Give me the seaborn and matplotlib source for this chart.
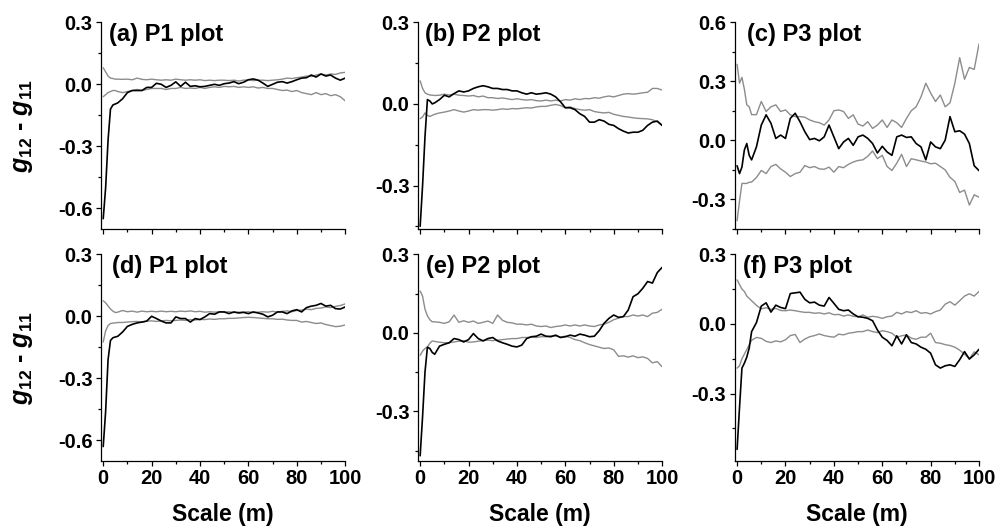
import matplotlib
matplotlib.use("Agg")
import matplotlib.pyplot as plt
import seaborn as sns
import pandas as pd

# scale axis (m), shared by every panel
x_scale = [0, 1, 2, 3, 4, 5, 6, 8, 10, 12, 14, 16, 18, 20, 22, 24, 26, 28, 30, 32,
           34, 36, 38, 40, 42, 44, 46, 48, 50, 52, 54, 56, 58, 60, 62, 64, 66, 68,
           70, 72, 74, 76, 78, 80, 82, 84, 86, 88, 90, 92, 94, 96, 98, 100]

# (a) P1 plot
a_black = [-0.65, -0.50, -0.27, -0.12, -0.10, -0.095, -0.09, -0.07, -0.04, -0.03, -0.03, -0.03,
           -0.015, -0.015, 0.005, 0.0, -0.015, -0.005, 0.012, -0.01, 0.01, -0.01, -0.007, -0.012,
           -0.01, -0.005, 0.0, -0.005, 0.003, 0.006, 0.013, 0.003, 0.01, 0.022, 0.026, 0.02,
           0.006, -0.01, 0.0, 0.01, 0.013, 0.006, 0.013, 0.022, 0.03, 0.032, 0.045, 0.035,
           0.05, 0.04, 0.045, 0.03, 0.02, 0.03]
a_upper = [0.08, 0.06, 0.04, 0.03, 0.028, 0.025, 0.025, 0.024, 0.025, 0.022, 0.03, 0.024,
           0.022, 0.025, 0.022, 0.02, 0.022, 0.02, 0.025, 0.022, 0.02, 0.022, 0.02, 0.022,
           0.018, 0.02, 0.018, 0.02, 0.02, 0.018, 0.02, 0.016, 0.02, 0.022, 0.018, 0.02,
           0.02, 0.018, 0.02, 0.022, 0.025, 0.03, 0.028, 0.032, 0.035, 0.04, 0.038, 0.045,
           0.05, 0.045, 0.05, 0.048, 0.055, 0.058]
a_lower = [-0.06, -0.05, -0.04, -0.035, -0.03, -0.03, -0.035, -0.04, -0.035, -0.03, -0.025, -0.03,
           -0.025, -0.02, -0.02, -0.02, -0.025, -0.02, -0.02, -0.015, -0.02, -0.018, -0.02, -0.015,
           -0.02, -0.015, -0.012, -0.015, -0.01, -0.012, -0.01, -0.015, -0.012, -0.015, -0.012, -0.018,
           -0.015, -0.02, -0.02, -0.025, -0.03, -0.028, -0.035, -0.03, -0.04, -0.045, -0.05, -0.04,
           -0.05, -0.045, -0.055, -0.05, -0.06, -0.08]

# (b) P2 plot
b_black = [-0.45, -0.30, -0.12, 0.016, 0.011, 0.0, 0.004, 0.016, 0.032, 0.026, 0.038, 0.048,
           0.044, 0.048, 0.057, 0.063, 0.067, 0.063, 0.057, 0.057, 0.053, 0.053, 0.048, 0.048,
           0.041, 0.036, 0.041, 0.036, 0.038, 0.041, 0.036, 0.026, 0.008, -0.014, -0.014, -0.021,
           -0.036, -0.046, -0.067, -0.067, -0.058, -0.063, -0.075, -0.079, -0.091, -0.10, -0.107, -0.104,
           -0.104, -0.097, -0.079, -0.067, -0.063, -0.079]
b_upper = [0.085, 0.057, 0.041, 0.036, 0.033, 0.032, 0.031, 0.032, 0.036, 0.033, 0.036, 0.032,
           0.031, 0.029, 0.031, 0.026, 0.029, 0.023, 0.023, 0.02, 0.022, 0.019, 0.016, 0.019,
           0.016, 0.014, 0.016, 0.012, 0.011, 0.014, 0.011, 0.014, 0.011, 0.016, 0.014, 0.019,
           0.016, 0.02, 0.019, 0.023, 0.021, 0.026, 0.029, 0.026, 0.031, 0.036, 0.038, 0.036,
           0.038, 0.041, 0.043, 0.057, 0.057, 0.051]
b_lower = [-0.054, -0.048, -0.033, -0.042, -0.046, -0.042, -0.038, -0.033, -0.03, -0.026, -0.021, -0.026,
           -0.03, -0.026, -0.021, -0.023, -0.021, -0.021, -0.023, -0.021, -0.018, -0.02, -0.017, -0.018,
           -0.016, -0.014, -0.015, -0.011, -0.009, -0.009, -0.005, -0.002, -0.006, -0.014, -0.011, -0.017,
           -0.021, -0.023, -0.021, -0.028, -0.031, -0.033, -0.031, -0.038, -0.042, -0.046, -0.048, -0.051,
           -0.053, -0.054, -0.055, -0.058, -0.066, -0.079]

# (c) P3 plot
c_black = [-0.13, -0.17, -0.137, -0.05, -0.017, -0.077, -0.10, -0.034, 0.077, 0.129, 0.086, 0.009,
           0.026, 0.009, 0.111, 0.137, 0.094, 0.043, 0.003, 0.009, -0.003, 0.017, 0.077, 0.017,
           -0.043, -0.009, 0.009, -0.026, 0.017, 0.026, 0.009, -0.017, -0.065, -0.031, -0.06, -0.077,
           0.017, 0.026, 0.014, 0.017, -0.017, -0.034, -0.10, -0.009, -0.034, -0.043, 0.0, 0.12,
           0.043, 0.048, 0.031, -0.017, -0.13, -0.155]
c_upper = [0.386, 0.29, 0.32, 0.26, 0.18, 0.17, 0.13, 0.13, 0.197, 0.146, 0.17, 0.18,
           0.146, 0.154, 0.129, 0.12, 0.12, 0.117, 0.103, 0.094, 0.089, 0.077, 0.103, 0.15,
           0.154, 0.146, 0.111, 0.129, 0.082, 0.072, 0.094, 0.06, 0.077, 0.103, 0.065, 0.103,
           0.089, 0.065, 0.111, 0.15, 0.17, 0.22, 0.29, 0.24, 0.197, 0.23, 0.17, 0.19,
           0.29, 0.42, 0.31, 0.37, 0.36, 0.49]
c_lower = [-0.41, -0.31, -0.22, -0.22, -0.22, -0.214, -0.213, -0.19, -0.154, -0.17, -0.134, -0.123,
           -0.146, -0.163, -0.185, -0.17, -0.163, -0.129, -0.14, -0.134, -0.146, -0.148, -0.137, -0.163,
           -0.134, -0.14, -0.123, -0.111, -0.103, -0.10, -0.082, -0.055, -0.094, -0.077, -0.134, -0.154,
           -0.117, -0.072, -0.134, -0.094, -0.10, -0.106, -0.111, -0.12, -0.117, -0.134, -0.151, -0.189,
           -0.21, -0.266, -0.254, -0.33, -0.278, -0.29]

# (d) P1 plot
d_black = [-0.63, -0.46, -0.21, -0.117, -0.104, -0.10, -0.097, -0.076, -0.049, -0.039, -0.032, -0.028,
           -0.023, 0.0, -0.011, -0.023, -0.032, -0.032, -0.003, -0.011, -0.011, -0.028, -0.011, -0.016,
           -0.003, 0.013, 0.01, 0.021, 0.021, 0.013, 0.021, 0.016, 0.019, 0.013, 0.021, 0.016,
           0.01, -0.003, 0.005, 0.021, 0.021, 0.013, 0.026, 0.032, 0.021, 0.042, 0.049, 0.053,
           0.062, 0.049, 0.053, 0.037, 0.035, 0.045]
d_upper = [0.075, 0.065, 0.05, 0.035, 0.025, 0.018, 0.02, 0.028, 0.022, 0.025, 0.02, 0.025,
           0.022, 0.024, 0.022, 0.025, 0.022, 0.024, 0.022, 0.025, 0.023, 0.026, 0.022, 0.024,
           0.02, 0.022, 0.02, 0.022, 0.02, 0.022, 0.018, 0.02, 0.02, 0.022, 0.018, 0.02,
           0.022, 0.02, 0.024, 0.02, 0.024, 0.026, 0.022, 0.028, 0.03, 0.035, 0.032, 0.038,
           0.04, 0.045, 0.042, 0.048, 0.052, 0.06]
d_lower = [-0.125, -0.07, -0.045, -0.035, -0.033, -0.032, -0.03, -0.03, -0.028, -0.026, -0.025, -0.028,
           -0.024, -0.022, -0.025, -0.022, -0.02, -0.022, -0.02, -0.018, -0.02, -0.016, -0.018, -0.015,
           -0.016, -0.013, -0.015, -0.012, -0.012, -0.01, -0.01, -0.008, -0.006, -0.005, -0.006, -0.008,
           -0.01, -0.012, -0.012, -0.015, -0.014, -0.018, -0.02, -0.02, -0.028, -0.025, -0.03, -0.035,
           -0.032, -0.04, -0.045, -0.05, -0.048, -0.042]

# (e) P2 plot
e_black = [-0.47, -0.32, -0.15, -0.055, -0.06, -0.075, -0.082, -0.051, -0.044, -0.038, -0.022, -0.026,
           -0.035, -0.026, -0.003, -0.022, -0.031, -0.022, -0.018, -0.031, -0.038, -0.044, -0.051, -0.054,
           -0.047, -0.022, -0.015, -0.013, -0.005, -0.013, -0.015, -0.009, -0.018, -0.015, -0.009, -0.013,
           -0.005, -0.009, -0.015, -0.013, 0.008, 0.036, 0.055, 0.068, 0.059, 0.062, 0.087, 0.138,
           0.149, 0.17, 0.196, 0.19, 0.23, 0.25]
e_upper = [0.16, 0.14, 0.09, 0.065, 0.05, 0.042, 0.042, 0.04, 0.036, 0.042, 0.068, 0.04,
           0.046, 0.04, 0.045, 0.036, 0.04, 0.045, 0.036, 0.068, 0.048, 0.04, 0.038, 0.033,
           0.033, 0.03, 0.033, 0.026, 0.024, 0.026, 0.02, 0.024, 0.026, 0.03, 0.026, 0.03,
           0.026, 0.03, 0.026, 0.024, 0.03, 0.033, 0.04, 0.05, 0.056, 0.062, 0.062, 0.068,
           0.064, 0.068, 0.062, 0.075, 0.078, 0.09]
e_lower = [-0.086, -0.07, -0.06, -0.054, -0.04, -0.031, -0.033, -0.036, -0.038, -0.038, -0.035, -0.032,
           -0.03, -0.036, -0.035, -0.032, -0.03, -0.028, -0.03, -0.028, -0.026, -0.024, -0.022, -0.022,
           -0.018, -0.018, -0.016, -0.018, -0.015, -0.015, -0.012, -0.012, -0.016, -0.013, -0.018, -0.026,
           -0.03, -0.038, -0.045, -0.05, -0.055, -0.06, -0.058, -0.065, -0.09, -0.088, -0.093, -0.088,
           -0.095, -0.092, -0.098, -0.115, -0.11, -0.13]

# (f) P3 plot
f_black = [-0.54, -0.36, -0.19, -0.169, -0.143, -0.104, -0.033, 0.006, 0.077, 0.091, 0.051, 0.081,
           0.071, 0.066, 0.131, 0.134, 0.137, 0.106, 0.091, 0.094, 0.081, 0.077, 0.114, 0.089,
           0.063, 0.057, 0.06, 0.043, 0.031, 0.029, 0.024, 0.014, -0.026, -0.057, -0.071, -0.094,
           -0.051, -0.086, -0.047, -0.08, -0.086, -0.10, -0.109, -0.126, -0.176, -0.19, -0.18, -0.176,
           -0.183, -0.154, -0.119, -0.151, -0.133, -0.109]
f_upper = [0.19, 0.17, 0.15, 0.14, 0.12, 0.11, 0.10, 0.08, 0.065, 0.07, 0.063, 0.067,
           0.058, 0.057, 0.06, 0.057, 0.053, 0.05, 0.05, 0.046, 0.048, 0.043, 0.048, 0.04,
           0.041, 0.034, 0.039, 0.033, 0.031, 0.039, 0.029, 0.033, 0.03, 0.024, 0.031, 0.034,
           0.05, 0.043, 0.053, 0.049, 0.057, 0.046, 0.049, 0.043, 0.053, 0.06, 0.085, 0.096,
           0.081, 0.10, 0.12, 0.13, 0.12, 0.14]
f_lower = [-0.19, -0.18, -0.15, -0.13, -0.11, -0.09, -0.07, -0.058, -0.062, -0.075, -0.08, -0.073,
           -0.077, -0.068, -0.05, -0.045, -0.08, -0.065, -0.055, -0.05, -0.043, -0.05, -0.054, -0.057,
           -0.044, -0.047, -0.04, -0.037, -0.033, -0.033, -0.026, -0.033, -0.037, -0.029, -0.033, -0.04,
           -0.057, -0.051, -0.047, -0.061, -0.066, -0.057, -0.057, -0.04, -0.08, -0.083, -0.089, -0.093,
           -0.10, -0.113, -0.13, -0.15, -0.12, -0.133]

titles = ["(a) P1 plot", "(b) P2 plot", "(c) P3 plot",
          "(d) P1 plot", "(e) P2 plot", "(f) P3 plot"]
y_ranges = [(-0.7, 0.301), (-0.46, 0.301), (-0.452, 0.601),
            (-0.7, 0.301), (-0.49, 0.301), (-0.59, 0.301)]
y_major = [[-0.6, -0.3, 0.0, 0.3], [-0.3, 0.0, 0.3], [-0.3, 0.0, 0.3, 0.6],
           [-0.6, -0.3, 0.0, 0.3], [-0.3, 0.0, 0.3], [-0.3, 0.0, 0.3]]
y_minor = [[-0.45, -0.15, 0.15], [-0.45, -0.15, 0.15], [-0.45, -0.15, 0.15, 0.45],
           [-0.45, -0.15, 0.15], [-0.45, -0.15, 0.15], [-0.45, -0.15, 0.15]]
title_x = [0.033, 0.03, 0.05, 0.047, 0.033, 0.034]
series = [(a_black, a_upper, a_lower), (b_black, b_upper, b_lower), (c_black, c_upper, c_lower),
          (d_black, d_upper, d_lower), (e_black, e_upper, e_lower), (f_black, f_upper, f_lower)]

sns.set_theme(style="ticks")
plt.rcParams['font.family'] = ['Liberation Sans', 'DejaVu Sans']
plt.rcParams['font.weight'] = 'bold'
plt.rcParams['axes.unicode_minus'] = False
plt.rcParams['mathtext.fontset'] = 'custom'
plt.rcParams['mathtext.rm'] = 'Liberation Sans:bold'
plt.rcParams['mathtext.it'] = 'Liberation Sans:italic:bold'
plt.rcParams['mathtext.bf'] = 'Liberation Sans:bold'
for key in ['text.color', 'axes.labelcolor', 'xtick.color', 'ytick.color', 'axes.edgecolor']:
    plt.rcParams[key] = 'black'

gray = "#8c8c8c"

fig, axes = plt.subplots(2, 3, figsize=(9.98, 5.26), dpi=100)
fig.subplots_adjust(left=0.101, right=0.981, top=0.958, bottom=0.1236, wspace=0.297, hspace=0.121)

for i, ax in enumerate(axes.flat):
    blk, up, lo = series[i]
    df = pd.DataFrame({"Scale": x_scale, "black": blk, "upper": up, "lower": lo})
    sns.lineplot(data=df, x="Scale", y="upper", color=gray, lw=1.0, ax=ax)
    sns.lineplot(data=df, x="Scale", y="lower", color=gray, lw=1.0, ax=ax)
    sns.lineplot(data=df, x="Scale", y="black", color="black", lw=1.2, ax=ax)

    ax.set_xlim(-1, 100)
    ax.set_ylim(*y_ranges[i])
    ax.set_xticks([0, 20, 40, 60, 80, 100])
    ax.set_xticks([10, 30, 50, 70, 90], minor=True)
    ax.set_yticks(y_major[i])
    ax.set_yticklabels(["%.1f" % v for v in y_major[i]])
    ax.set_yticks(y_minor[i], minor=True)
    sns.despine(ax=ax)
    for side in ["left", "bottom"]:
        ax.spines[side].set_color("black")
        ax.spines[side].set_linewidth(0.9)
    ax.tick_params(which="major", direction="out", length=3.5, width=0.9, color="black",
                   labelcolor="black", labelsize=14.5, pad=2.5)
    ax.tick_params(which="minor", direction="out", length=2, width=0.9, color="black")
    for lab in ax.get_xticklabels() + ax.get_yticklabels():
        lab.set_fontweight("bold")

    ax.text(title_x[i], 0.995, titles[i], transform=ax.transAxes, ha="left", va="top",
            fontsize=17, fontweight="bold", color="black")

    if i < 3:
        ax.tick_params(labelbottom=False)
        ax.set_xlabel("")
    else:
        ax.set_xlabel("Scale (m)", fontsize=16.5, fontweight="bold", color="black")
        ax.xaxis.set_label_coords(0.5, -0.205)
    if i % 3 == 0:
        ax.set_ylabel(r"$g_{12}$ - $g_{11}$", fontsize=18, fontweight="bold", color="black")
        ax.yaxis.set_label_coords(-0.27, 0.5)
    else:
        ax.set_ylabel("")

fig.savefig("out.png", dpi=100)
